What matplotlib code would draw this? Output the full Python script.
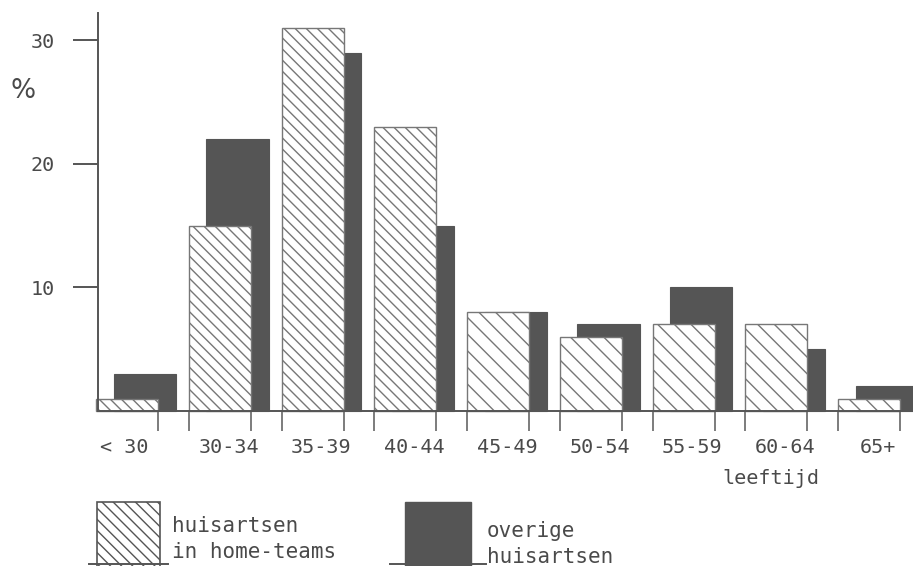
import numpy as np
import matplotlib.pyplot as plt
from matplotlib.patches import Rectangle
from matplotlib.lines import Line2D
from matplotlib.transforms import blended_transform_factory

groepen = ['< 30', '30-34', '35-39', '40-44', '45-49', '50-54', '55-59', '60-64', '65+']
home_teams = [1, 15, 31, 23, 8, 6, 7, 7, 1]      # huisartsen in home-teams
overige = [3, 22, 29, 15, 8, 7, 10, 5, 2]         # overige huisartsen
y_ticks = [10, 20, 30]

W, H = 913, 566
ink = '#4a4a4a'
dark = '#555555'
mono_font = 'DejaVu Sans Mono'

plt.rcParams['hatch.linewidth'] = 1.0
plt.rcParams['hatch.color'] = '#333333'

fig = plt.figure(figsize=(W / 100, H / 100), dpi=100)
ax = fig.add_axes([98 / W, 155 / H, (W - 98) / W, 398 / H])

x = np.arange(len(groepen))
bw = 0.67
shift = 0.19
unit = 92.75  # pixels per groep

# donkere balken achter, gearceerde ervoor
ax.bar(x + shift, overige, width=bw, align='edge', color=dark, edgecolor=dark,
       linewidth=0.8, zorder=1, clip_on=False)
hatches = ['\\\\\\'] * 4 + ['\\\\'] * 5
for xi, v, h in zip(x, home_teams, hatches):
    ax.bar(xi, v, width=bw, align='edge', color='white', edgecolor='#777777',
           linewidth=1.0, hatch=h, zorder=2, clip_on=False)

ax.set_ylim(0, 32.2)
ax.set_xlim(2 / unit, 2 / unit + (W - 98) / unit)

for s in ['top', 'right']:
    ax.spines[s].set_visible(False)
for s in ['left', 'bottom']:
    ax.spines[s].set_color('#555555')
    ax.spines[s].set_linewidth(1.4)
ax.spines['bottom'].set_zorder(3)

ax.set_yticks(y_ticks)
ax.set_yticklabels([str(t) for t in y_ticks], fontsize=14.5, color=ink,
                   family=mono_font)
ax.tick_params(axis='y', length=18, width=1.4, color='#555555', pad=13)

edges = sorted(set(np.concatenate([x[1:], x + bw])))
ax.set_xticks(edges)
ax.set_xticklabels([])
ax.tick_params(axis='x', length=14.5, width=1.2, color='#666666')

tr = blended_transform_factory(ax.transData, fig.transFigure)
label_x = [0.30] + [i + 0.43 for i in x[1:]]
for lx, g in zip(label_x, groepen):
    ax.text(lx, 1 - 453 / H, g, transform=tr, ha='center', va='baseline',
            fontsize=14.5, color=ink, family=mono_font, clip_on=False)
ax.text((722 - 96) / unit, 1 - 484 / H, 'leeftijd', transform=tr, ha='left',
        va='baseline', fontsize=14.5, color=ink, family=mono_font)

fig.text(10 / W, 1 - 98 / H, '%', fontsize=19, color=ink, va='baseline')

# legenda
fig.add_artist(Rectangle((97 / W, -0.01), 63 / W, (H - 502) / H + 0.01,
                         transform=fig.transFigure, facecolor='white',
                         edgecolor='#555555', linewidth=1.2, hatch='\\\\\\'))
fig.add_artist(Rectangle((405 / W, -0.01), 66 / W, (H - 502) / H + 0.01,
                         transform=fig.transFigure, facecolor=dark,
                         edgecolor=dark, linewidth=1.0))
fig.add_artist(Line2D([390 / W, 486 / W], [1 - 564 / H] * 2,
                      transform=fig.transFigure, color='#555555', linewidth=1.4))
fig.add_artist(Line2D([89 / W, 168 / W], [1 - 564 / H] * 2,
                      transform=fig.transFigure, color='#555555', linewidth=1.4))

mono = dict(fontsize=15, color=ink, family=mono_font, va='baseline')
fig.text(172 / W, 1 - 532 / H, 'huisartsen', **mono)
fig.text(172 / W, 1 - 558 / H, 'in home-teams', **mono)
fig.text(487 / W, 1 - 537 / H, 'overige', **mono)
fig.text(487 / W, 1 - 563 / H, 'huisartsen', **mono)

fig.savefig('out.png', dpi=100)
